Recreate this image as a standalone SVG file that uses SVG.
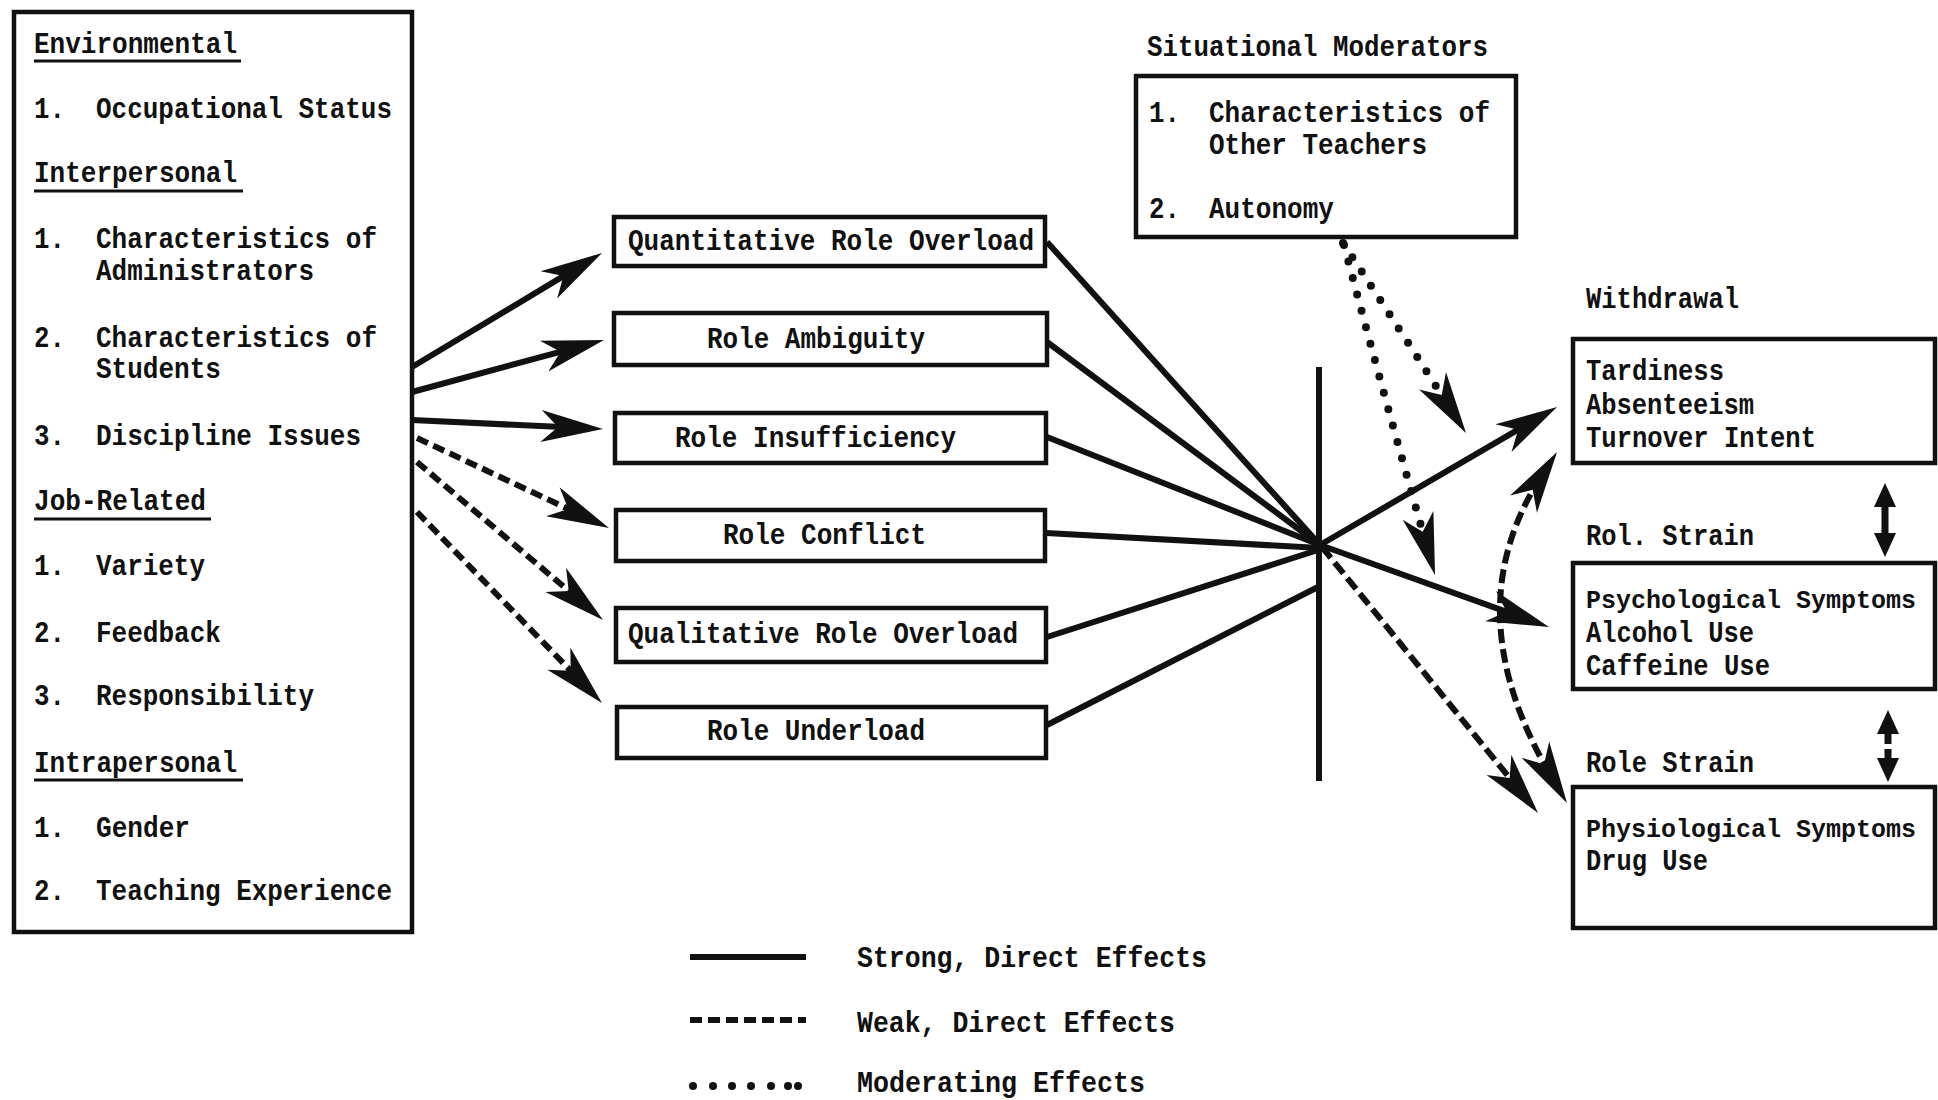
<svg xmlns="http://www.w3.org/2000/svg" width="1938" height="1100" viewBox="0 0 1938 1100">
<style>
.t{font-family:"Liberation Mono","DejaVu Sans Mono",monospace;font-weight:bold;font-size:30px;fill:#111}
.ts{font-size:25px}
.box{fill:none;stroke:#111;stroke-width:4.5}
.ul{stroke:#111;stroke-width:3}
.solid{fill:none;stroke:#111;stroke-width:6}
.dash{fill:none;stroke:#111;stroke-width:6;stroke-dasharray:12 6}
.dash2{fill:none;stroke:#111;stroke-width:6;stroke-dasharray:14 6}
.dot{fill:none;stroke:#111;stroke-width:8;stroke-linecap:round;stroke-dasharray:0 17}
.bar{stroke:#111;stroke-width:6}
.dbl{stroke:#111;stroke-width:7}
</style>
<defs>
<marker id="ah" markerUnits="userSpaceOnUse" orient="auto" refX="-30" refY="0" markerWidth="80" markerHeight="40" overflow="visible">
<path d="M0,0 L-62,-16 L-45,0 L-62,16 Z" fill="#111"/>
</marker>
<marker id="ahs" markerUnits="userSpaceOnUse" orient="auto-start-reverse" refX="-30" refY="0" markerWidth="80" markerHeight="40" overflow="visible">
<path d="M0,0 L-62,-16 L-45,0 L-62,16 Z" fill="#111"/>
</marker>
<marker id="sh" markerUnits="userSpaceOnUse" orient="auto-start-reverse" refX="-12" refY="0" markerWidth="30" markerHeight="30" overflow="visible">
<path d="M0,0 L-24,-11 L-24,11 Z" fill="#111"/>
</marker>
</defs>
<rect width="1938" height="1100" fill="#fff"/>

<g id="antecedents">
<rect class="box" x="14" y="12" width="398" height="920"/>
<text class="t" x="34" y="53" textLength="203" lengthAdjust="spacingAndGlyphs">Environmental</text>
<line class="ul" x1="34" y1="61" x2="241" y2="61"/>
<text class="t" x="34" y="118" textLength="31" lengthAdjust="spacingAndGlyphs">1.</text>
<text class="t" x="96" y="118" textLength="296" lengthAdjust="spacingAndGlyphs">Occupational Status</text>
<text class="t" x="34" y="182" textLength="203" lengthAdjust="spacingAndGlyphs">Interpersonal</text>
<line class="ul" x1="34" y1="191" x2="243" y2="191"/>
<text class="t" x="34" y="248" textLength="31" lengthAdjust="spacingAndGlyphs">1.</text>
<text class="t" x="96" y="248" textLength="281" lengthAdjust="spacingAndGlyphs">Characteristics of</text>
<text class="t" x="96" y="280" textLength="218" lengthAdjust="spacingAndGlyphs">Administrators</text>
<text class="t" x="34" y="347" textLength="31" lengthAdjust="spacingAndGlyphs">2.</text>
<text class="t" x="96" y="347" textLength="281" lengthAdjust="spacingAndGlyphs">Characteristics of</text>
<text class="t" x="96" y="378" textLength="125" lengthAdjust="spacingAndGlyphs">Students</text>
<text class="t" x="34" y="445" textLength="31" lengthAdjust="spacingAndGlyphs">3.</text>
<text class="t" x="96" y="445" textLength="265" lengthAdjust="spacingAndGlyphs">Discipline Issues</text>
<text class="t" x="34" y="510" textLength="172" lengthAdjust="spacingAndGlyphs">Job-Related</text>
<line class="ul" x1="34" y1="519" x2="211" y2="519"/>
<text class="t" x="34" y="575" textLength="31" lengthAdjust="spacingAndGlyphs">1.</text>
<text class="t" x="96" y="575" textLength="109" lengthAdjust="spacingAndGlyphs">Variety</text>
<text class="t" x="34" y="642" textLength="31" lengthAdjust="spacingAndGlyphs">2.</text>
<text class="t" x="96" y="642" textLength="125" lengthAdjust="spacingAndGlyphs">Feedback</text>
<text class="t" x="34" y="705" textLength="31" lengthAdjust="spacingAndGlyphs">3.</text>
<text class="t" x="96" y="705" textLength="218" lengthAdjust="spacingAndGlyphs">Responsibility</text>
<text class="t" x="34" y="772" textLength="203" lengthAdjust="spacingAndGlyphs">Intrapersonal</text>
<line class="ul" x1="34" y1="780" x2="243" y2="780"/>
<text class="t" x="34" y="837" textLength="31" lengthAdjust="spacingAndGlyphs">1.</text>
<text class="t" x="96" y="837" textLength="94" lengthAdjust="spacingAndGlyphs">Gender</text>
<text class="t" x="34" y="900" textLength="31" lengthAdjust="spacingAndGlyphs">2.</text>
<text class="t" x="96" y="900" textLength="296" lengthAdjust="spacingAndGlyphs">Teaching Experience</text>
</g>

<g id="quantitative-role-overload">
<rect class="box" x="614" y="217" width="431" height="49"/>
<text class="t" x="628" y="250" textLength="406" lengthAdjust="spacingAndGlyphs">Quantitative Role Overload</text>
</g>
<g id="role-ambiguity">
<rect class="box" x="614" y="313" width="433" height="52"/>
<text class="t" x="707" y="348" textLength="218" lengthAdjust="spacingAndGlyphs">Role Ambiguity</text>
</g>
<g id="role-insufficiency">
<rect class="box" x="615" y="413" width="431" height="50"/>
<text class="t" x="675" y="447" textLength="281" lengthAdjust="spacingAndGlyphs">Role Insufficiency</text>
</g>
<g id="role-conflict">
<rect class="box" x="616" y="510" width="429" height="51"/>
<text class="t" x="723" y="544" textLength="203" lengthAdjust="spacingAndGlyphs">Role Conflict</text>
</g>
<g id="qualitative-role-overload">
<rect class="box" x="616" y="608" width="430" height="54"/>
<text class="t" x="628" y="643" textLength="390" lengthAdjust="spacingAndGlyphs">Qualitative Role Overload</text>
</g>
<g id="role-underload">
<rect class="box" x="617" y="707" width="429" height="51"/>
<text class="t" x="707" y="740" textLength="218" lengthAdjust="spacingAndGlyphs">Role Underload</text>
</g>

<g id="situational-moderators">
<text class="t" x="1147" y="56" textLength="341" lengthAdjust="spacingAndGlyphs">Situational Moderators</text>
<rect class="box" x="1136" y="76" width="380" height="161"/>
<text class="t" x="1149" y="122" textLength="31" lengthAdjust="spacingAndGlyphs">1.</text>
<text class="t" x="1209" y="122" textLength="281" lengthAdjust="spacingAndGlyphs">Characteristics of</text>
<text class="t" x="1209" y="154" textLength="218" lengthAdjust="spacingAndGlyphs">Other Teachers</text>
<text class="t" x="1149" y="218" textLength="31" lengthAdjust="spacingAndGlyphs">2.</text>
<text class="t" x="1209" y="218" textLength="125" lengthAdjust="spacingAndGlyphs">Autonomy</text>
</g>

<g id="withdrawal">
<text class="t" x="1586" y="308" textLength="153" lengthAdjust="spacingAndGlyphs">Withdrawal</text>
<rect class="box" x="1573" y="339" width="362" height="124"/>
<text class="t" x="1586" y="380" textLength="138" lengthAdjust="spacingAndGlyphs">Tardiness</text>
<text class="t" x="1586" y="414" textLength="168" lengthAdjust="spacingAndGlyphs">Absenteeism</text>
<text class="t" x="1586" y="447" textLength="230" lengthAdjust="spacingAndGlyphs">Turnover Intent</text>
</g>
<g id="psychological-strain">
<text class="t" x="1586" y="545" textLength="168" lengthAdjust="spacingAndGlyphs">Rol. Strain</text>
<rect class="box" x="1573" y="563" width="362" height="126"/>
<text class="t ts" x="1586" y="608" textLength="330" lengthAdjust="spacingAndGlyphs">Psychological Symptoms</text>
<text class="t" x="1586" y="642" textLength="168" lengthAdjust="spacingAndGlyphs">Alcohol Use</text>
<text class="t" x="1586" y="675" textLength="184" lengthAdjust="spacingAndGlyphs">Caffeine Use</text>
</g>
<g id="physiological-strain">
<text class="t" x="1586" y="772" textLength="168" lengthAdjust="spacingAndGlyphs">Role Strain</text>
<rect class="box" x="1573" y="787" width="362" height="141"/>
<text class="t ts" x="1586" y="837" textLength="330" lengthAdjust="spacingAndGlyphs">Physiological Symptoms</text>
<text class="t" x="1586" y="870" textLength="122" lengthAdjust="spacingAndGlyphs">Drug Use</text>
</g>

<g id="connectors">
<path class="solid" d="M412,367 L576.3,268.4" marker-end="url(#ah)"/>
<path class="solid" d="M412,392 L575,347.8" marker-end="url(#ah)"/>
<path class="solid" d="M412,420 L573,427.6" marker-end="url(#ah)"/>
<path class="dash" d="M417,438 L581.8,515.3" marker-end="url(#ah)"/>
<path class="dash" d="M417,462 L580.1,600.6" marker-end="url(#ah)"/>
<path class="dash" d="M417,512 L581.1,681.5" marker-end="url(#ah)"/>

<path class="solid" d="M1047,242 L1320,545"/>
<path class="solid" d="M1047,342 L1320,545"/>
<path class="solid" d="M1047,437 L1320,545"/>
<path class="solid" d="M1046,533 L1320,548"/>
<path class="solid" d="M1047,637 L1318,550"/>
<path class="solid" d="M1047,725 L1318,587"/>
<line class="bar" x1="1319" y1="367" x2="1319" y2="781"/>

<path class="solid" d="M1320,545 L1531.1,422.1" marker-end="url(#ah)"/>
<path class="solid" d="M1320,545 L1520.7,616.9" marker-end="url(#ah)"/>
<path class="dash2" d="M1322,547 L1519.1,789.7" marker-end="url(#ah)"/>

<path class="dot" d="M1343,243 Q1400,330 1449.8,407.7" marker-end="url(#ah)"/>
<path class="dot" d="M1344,245 Q1385,400 1426.8,546.1" marker-end="url(#ah)"/>

<path class="dash2" d="M1540.8,477.2 Q1454,612 1551.7,777.2" marker-start="url(#ahs)" marker-end="url(#ahs)"/>

<line class="dbl" x1="1885" y1="495" x2="1885" y2="545" marker-start="url(#sh)" marker-end="url(#sh)"/>
<line class="dbl" x1="1888" y1="722" x2="1888" y2="770" stroke-dasharray="22 5" marker-start="url(#sh)" marker-end="url(#sh)"/>
</g>

<g id="legend">
<line class="solid" x1="690" y1="957" x2="806" y2="957" stroke-width="7"/>
<text class="t" x="857" y="967" textLength="350" lengthAdjust="spacingAndGlyphs">Strong, Direct Effects</text>
<line class="dash" x1="690" y1="1020" x2="806" y2="1020" stroke-width="7" stroke-dasharray="11 4"/>
<text class="t" x="857" y="1032" textLength="318" lengthAdjust="spacingAndGlyphs">Weak, Direct Effects</text>
<g fill="#111">
<circle cx="693" cy="1086" r="4"/><circle cx="713" cy="1086" r="4"/><circle cx="732" cy="1086" r="4"/><circle cx="751" cy="1086" r="4"/><circle cx="771" cy="1086" r="4"/><circle cx="788" cy="1086" r="4"/><circle cx="798" cy="1086" r="4"/>
</g>
<text class="t" x="857" y="1092" textLength="288" lengthAdjust="spacingAndGlyphs">Moderating Effects</text>
</g>
</svg>
